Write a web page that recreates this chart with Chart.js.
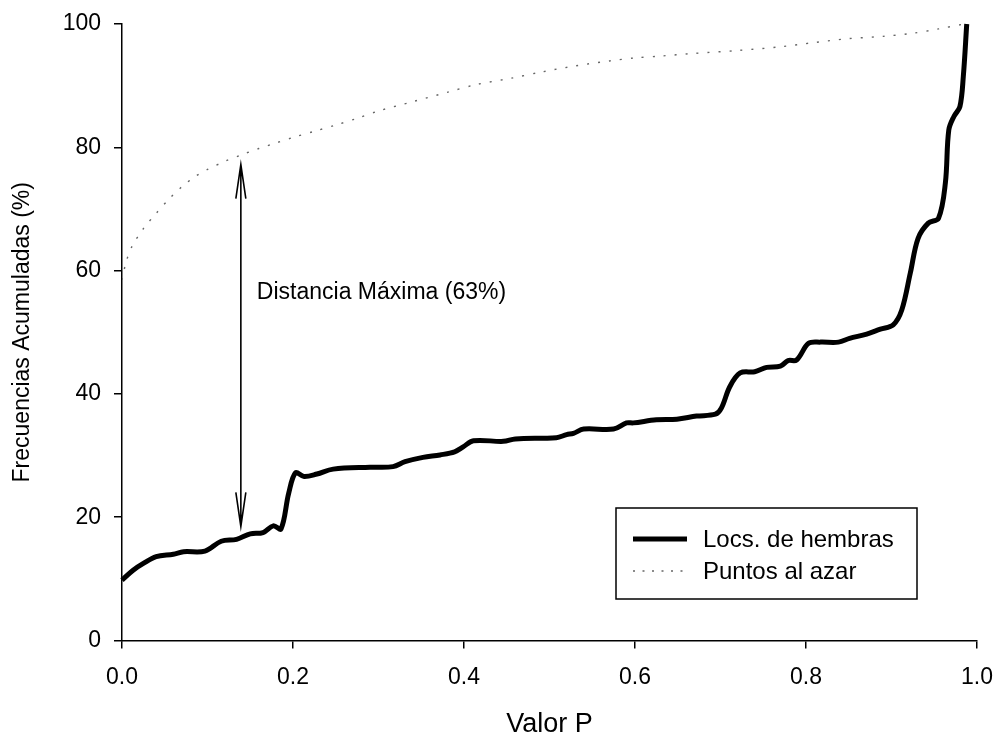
<!DOCTYPE html>
<html>
<head>
<meta charset="utf-8">
<script src="https://cdn.jsdelivr.net/npm/chart.js@4/dist/chart.umd.min.js"></script>
<style>
  html, body { margin: 0; padding: 0; background: #fff; }
  #wrap { position: relative; width: 996px; height: 738px; }
</style>
</head>
<body>
<div id="wrap"><canvas id="chart" width="996" height="738"></canvas></div>
<script>
// Locs. de hembras (cumulative %)
const hembrasX = [0, 0.013, 0.025, 0.04, 0.06, 0.072, 0.097, 0.116, 0.134, 0.15, 0.165, 0.177, 0.186, 0.195, 0.203, 0.213, 0.228, 0.247, 0.29, 0.317, 0.331, 0.352, 0.372, 0.389, 0.399, 0.411, 0.446, 0.46, 0.508, 0.52, 0.528, 0.54, 0.575, 0.59, 0.598, 0.625, 0.649, 0.672, 0.694, 0.701, 0.711, 0.723, 0.74, 0.754, 0.77, 0.779, 0.789, 0.803, 0.817, 0.838, 0.851, 0.871, 0.887, 0.902, 0.912, 0.922, 0.931, 0.943, 0.955, 0.963, 0.967, 0.973, 0.98, 0.984, 0.988];
const hembrasY = [9.8, 11.4, 12.5, 13.6, 14.0, 14.4, 14.5, 16.1, 16.4, 17.3, 17.5, 18.6, 18.1, 23.9, 27.2, 26.6, 27.0, 27.8, 28.1, 28.2, 29.0, 29.7, 30.1, 30.6, 31.4, 32.4, 32.3, 32.7, 32.9, 33.4, 33.6, 34.3, 34.3, 35.3, 35.3, 35.8, 35.9, 36.4, 36.7, 37.7, 41.2, 43.4, 43.6, 44.3, 44.5, 45.4, 45.5, 48.2, 48.4, 48.4, 49.0, 49.7, 50.5, 51.2, 53.6, 59.6, 65.2, 67.7, 68.5, 74.2, 82.8, 85.0, 86.6, 91.5, 100];

// Puntos al azar
const azarX = [0, 0.005, 0.012, 0.025, 0.04, 0.055, 0.07, 0.085, 0.1, 0.12, 0.14, 0.16, 0.18, 0.2, 0.225, 0.25, 0.275, 0.3, 0.34, 0.38, 0.415, 0.455, 0.49, 0.53, 0.57, 0.6, 0.63, 0.666, 0.72, 0.77, 0.81, 0.848, 0.89, 0.925, 0.955, 0.985];
const azarY = [58.5, 61.5, 64.0, 66.8, 69.3, 71.6, 73.6, 75.2, 76.4, 77.7, 78.8, 79.8, 80.7, 81.6, 82.6, 83.6, 84.7, 85.9, 87.4, 88.9, 90.2, 91.2, 92.2, 93.2, 94.0, 94.5, 94.8, 95.2, 95.7, 96.3, 97.0, 97.6, 98.0, 98.5, 99.2, 100];

const xTicks = [0, 0.2, 0.4, 0.6, 0.8, 1.0];
const yTicks = [0, 20, 40, 60, 80, 100];

// max distance marker
const arrowX = 0.139;
const arrowTop = 77.2;
const arrowBottom = 18.5;
const arrowLabelY = 56.4;
const arrowLabel = 'Distancia Máxima (63%)';

const legendLabels = ['Locs. de hembras', 'Puntos al azar'];

const FONT = "'Liberation Sans', Arial, sans-serif";
const toPts = (xs, ys) => xs.map((x, i) => ({ x: x, y: ys[i] }));

// arrow + label drawn with the chart's scales
const arrowPlugin = {
    id: 'arrow',
    afterDatasetsDraw(chart) {
        const { ctx, scales } = chart;
        const x = scales.x.getPixelForValue(arrowX);
        const y1 = scales.y.getPixelForValue(arrowTop);
        const y2 = scales.y.getPixelForValue(arrowBottom);
        ctx.save();
        ctx.strokeStyle = '#000';
        ctx.lineWidth = 1.6;
        ctx.beginPath();
        ctx.moveTo(x, y1);
        ctx.lineTo(x, y2);
        // open heads
        ctx.moveTo(x - 5, y1 + 34); ctx.lineTo(x, y1); ctx.lineTo(x + 5, y1 + 34);
        ctx.moveTo(x - 5, y2 - 34); ctx.lineTo(x, y2); ctx.lineTo(x + 5, y2 - 34);
        ctx.stroke();
        ctx.fillStyle = '#000';
        ctx.font = '23px ' + FONT;
        ctx.textBaseline = 'middle';
        ctx.fillText(arrowLabel, x + 16, scales.y.getPixelForValue(arrowLabelY));
        ctx.restore();
    }
};

// boxed legend like the original
const legendBox = {
    id: 'legendBox',
    afterDraw(chart) {
        const ctx = chart.ctx;
        const ds = chart.data.datasets;
        ctx.save();
        ctx.strokeStyle = '#000';
        ctx.lineWidth = 1.5;
        ctx.strokeRect(616, 508, 301, 91);
        ctx.font = '24px ' + FONT;
        ctx.textBaseline = 'middle';
        [539, 571].forEach((yy, i) => {
            ctx.beginPath();
            ctx.strokeStyle = ds[i].borderColor;
            ctx.lineWidth = ds[i].borderWidth;
            ctx.setLineDash(i === 1 ? [2, 7.5] : []);
            ctx.moveTo(633, yy);
            ctx.lineTo(687, yy);
            ctx.stroke();
            ctx.setLineDash([]);
            ctx.fillStyle = '#000';
            ctx.fillText(legendLabels[i], 703, yy + 1);
        });
        ctx.restore();
    }
};

new Chart(document.getElementById('chart'), {
    type: 'line',
    data: {
        datasets: [
            {
                label: legendLabels[0],
                data: toPts(hembrasX, hembrasY),
                borderColor: '#000',
                borderWidth: 5,
                pointRadius: 0,
                tension: 0.35,
                clip: false
            },
            {
                label: legendLabels[1],
                data: toPts(azarX, azarY),
                borderColor: '#666',
                borderWidth: 1.4,
                borderDash: [2, 9],
                pointRadius: 0,
                tension: 0.3
            }
        ]
    },
    options: {
        responsive: false,
        animation: false,
        events: [],
        layout: { padding: { top: 24, right: 19, left: 0, bottom: 0 } },
        plugins: { legend: { display: false }, tooltip: { enabled: false } },
        scales: {
            x: {
                type: 'linear',
                min: 0, max: 1,
                afterBuildTicks: s => { s.ticks = xTicks.map(v => ({ value: v })); },
                afterFit: s => { s.height = 97.5; s.paddingLeft = 0; s.paddingRight = 0; },
                ticks: { color: '#000', font: { family: FONT, size: 23 }, padding: 15, maxRotation: 0,
                    callback: v => v.toFixed(1) },
                grid: { drawOnChartArea: false, drawTicks: true, tickLength: 8, color: '#000', lineWidth: 1.5 },
                border: { display: true, color: '#000', width: 1.5 },
                title: { display: true, text: 'Valor P', color: '#000', font: { family: FONT, size: 27, lineHeight: 1 }, padding: { top: 0, bottom: 0 } }
            },
            y: {
                min: 0, max: 100,
                afterBuildTicks: s => { s.ticks = yTicks.map(v => ({ value: v })); },
                afterFit: s => { s.width = 122; s.paddingTop = 0; s.paddingBottom = 0; },
                ticks: { color: '#000', font: { family: FONT, size: 23 }, padding: 13 },
                grid: { drawOnChartArea: false, drawTicks: true, tickLength: 8, color: '#000', lineWidth: 1.5 },
                border: { display: true, color: '#000', width: 1.5 },
                title: { display: true, text: 'Frecuencias Acumuladas (%)', color: '#000', font: { family: FONT, size: 23, lineHeight: 1 }, padding: { top: 11, bottom: 0 } }
            }
        }
    },
    plugins: [arrowPlugin, legendBox]
});
</script>
</body>
</html>
